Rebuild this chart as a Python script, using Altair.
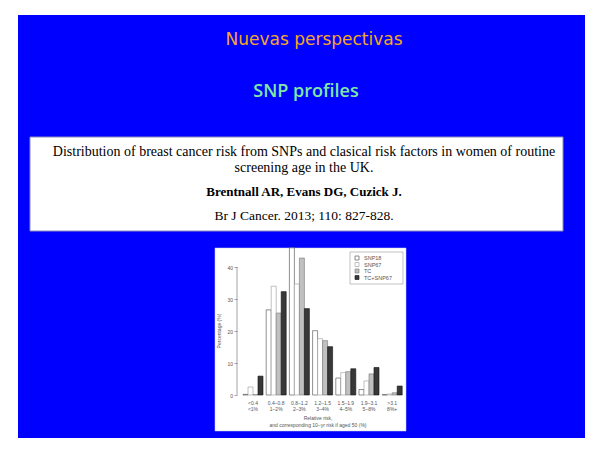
import altair as alt
import pandas as pd

# ---- data ----
risk_labels = ["<0.4", "0.4–0.8", "0.8–1.2", "1.2–1.5", "1.5–1.9", "1.9–3.1", ">3.1"]
pct_labels = ["<1%", "1–2%", "2–3%", "3–4%", "4–5%", "5–8%", "8%+"]
series = ["SNP18", "SNP67", "TC", "TC+SNP67"]
snp18 = [0.2, 26.6, 46.5, 20.1, 5.3, 1.7, 0.1]
snp67 = [2.5, 34.0, 34.7, 17.6, 7.0, 4.4, 0.3]
tc = [0.1, 25.6, 42.8, 17.0, 7.3, 6.6, 0.7]
tc_snp67 = [5.9, 32.3, 27.0, 15.1, 8.2, 8.6, 2.8]
y_ticks = [0, 10, 20, 30, 40]

cats = [f"{r}\n{p}" for r, p in zip(risk_labels, pct_labels)]
rows = []
for name, vals in zip(series, [snp18, snp67, tc, tc_snp67]):
    for c, v in zip(cats, vals):
        rows.append({"cat": c, "series": name, "pct": v})
df = pd.DataFrame(rows)
leg_df = pd.DataFrame({"series": series})

one = pd.DataFrame({"a": [0]})

W, H = 577, 430

def box(x1, x2, y1, y2, **kw):
    return alt.Chart(one).mark_rect(**kw).encode(
        x=alt.value(x1), x2=alt.value(x2), y=alt.value(y1), y2=alt.value(y2))

def txt(s, x, y, **kw):
    return alt.Chart(one).mark_text(align="center", baseline="middle", **kw).encode(
        x=alt.value(x), y=alt.value(y), text=alt.value(s))

bg = box(10, W, 7, H, color="#0000FF")
white_box = box(22, 555, 129, 223, fill="white", stroke="#8a8ac0", strokeWidth=1)
img = box(207, 398, 240, 423, fill="white", stroke="#d0d0d0", strokeWidth=0.5)

t1 = txt("Nuevas perspectivas", 306, 32, font="DejaVu Sans", fontSize=17, color="#F5A623")
t2 = txt("SNP profiles", 298, 84, font="Open Sans", fontSize=18, fontWeight=600, color="#7FE8A3")
serif = "Liberation Serif"
t3 = txt("Distribution of breast cancer risk from SNPs and clasical risk factors in women of routine",
         296, 144, font=serif, fontSize=14, color="black")
t4 = txt("screening age in the UK.", 296, 160, font=serif, fontSize=14, color="black")
t5 = txt("Brentnall AR, Evans DG, Cuzick J.", 296, 184, font=serif, fontSize=13,
         fontWeight="bold", color="black")
t6 = txt("Br J Cancer. 2013; 110: 827-828.", 296, 208, font=serif, fontSize=13.5, color="black")

fill_scale = alt.Scale(domain=series, range=["#ffffff", "#ffffff", "#c0c0c0", "#383838"])
stroke_scale = alt.Scale(domain=series, range=["#444444", "#999999", "#777777", "#111111"])

xscale = alt.Scale(domain=cats, range=[233.4, 395.8], paddingInner=0.138, paddingOuter=0.069)
yscale = alt.Scale(domain=[0, 46], range=[387, 239.8], clamp=True, nice=False, zero=True)

bars = alt.Chart(df).mark_bar(strokeWidth=0.6).encode(
    x=alt.X("cat:N", sort=cats, scale=xscale, title=None,
            axis=alt.Axis(offset=-43, domain=False, ticks=False, labelFontSize=5, zindex=2,
                          labelColor="#555555", labelPadding=5, labelLineHeight=6.5,
                          labelAngle=0, labelFont="Liberation Sans",
                          labelExpr="split(datum.label, '\\n')")),
    xOffset=alt.XOffset("series:N", sort=series, scale=alt.Scale(paddingInner=0, paddingOuter=0)),
    y=alt.Y("pct:Q", scale=yscale, title=None,
            axis=alt.Axis(values=y_ticks, offset=-229, domain=False, grid=False, tickSize=3,
                          tickColor="#666666", tickWidth=0.6, labelFontSize=5, zindex=2,
                          labelColor="#555555", labelPadding=1.5, labelFont="Liberation Sans")),
    fill=alt.Fill("series:N", sort=series, scale=fill_scale, legend=None),
    stroke=alt.Stroke("series:N", sort=series, scale=stroke_scale, legend=None),
)

yline = alt.Chart(one).mark_rule(color="#666666", strokeWidth=0.6).encode(
    x=alt.value(229), y=alt.Y(datum=0), y2=alt.Y2(datum=40))

# hand-made legend (box, swatches, labels)
leg_box = box(342, 395, 244, 276, fill="white", stroke="#999999", strokeWidth=0.6)
leg_base = alt.Chart(leg_df).transform_calculate(
    ly="250 + 6.5 * indexof(" + str(series).replace("'", '"') + ", datum.series)"
)
leg_sym = leg_base.mark_square(size=16, strokeWidth=0.6, opacity=1).encode(
    x=alt.value(349), y=alt.Y("ly:Q", scale=None),
    fill=alt.Fill("series:N", sort=series, scale=fill_scale, legend=None),
    stroke=alt.Stroke("series:N", sort=series, scale=stroke_scale, legend=None),
)
leg_lab = leg_base.mark_text(align="left", baseline="middle", fontSize=5.5, font="Liberation Sans",
                             color="#555555").encode(
    x=alt.value(356), y=alt.Y("ly:Q", scale=None), text="series:N")

ytitle = txt("Percentage (%)", 211, 323, font="Liberation Sans", fontSize=5, angle=270, color="#555555")
xt1 = txt("Relative risk,", 310, 410, font="Liberation Sans", fontSize=5, color="#555555")
xt2 = txt("and corresponding 10–yr risk if aged 50 (%)", 310, 417, font="Liberation Sans",
          fontSize=5, color="#555555")

chart = alt.layer(bg, white_box, img, t1, t2, t3, t4, t5, t6, bars, yline,
                  leg_box, leg_sym, leg_lab, ytitle, xt1, xt2).properties(
    width=W, height=H, autosize=alt.AutoSizeParams(type="none"), padding=0
).configure_view(stroke=None)

chart.save("out.html", embed_options={"renderer": "svg", "actions": False})
